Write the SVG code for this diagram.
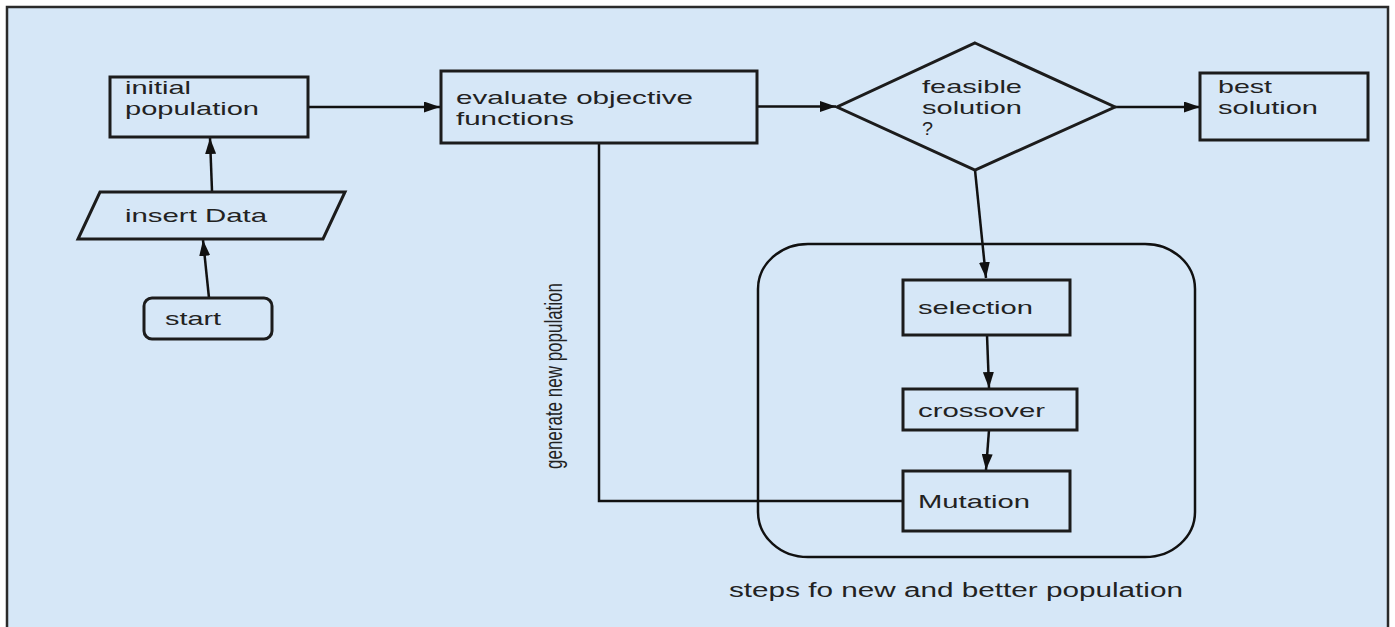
<svg xmlns="http://www.w3.org/2000/svg" width="1395" height="627" viewBox="0 0 1395 627">
<defs>
<marker id="ah" viewBox="0 0 16 11" refX="16" refY="5.5" markerWidth="16" markerHeight="11" markerUnits="userSpaceOnUse" orient="auto">
<path d="M0,0 L16,5.5 L0,11 Z" fill="#111"/>
</marker>
<style>
.bg{fill:#d6e7f7;stroke:#2a2a2a;stroke-width:2.5}
.n{fill:#d6e7f7;stroke:#1c1c1c;stroke-width:3}
.c{fill:none;stroke:#111;stroke-width:2.5}
.a{fill:none;stroke:#111;stroke-width:2.5;marker-end:url(#ah)}
.t{font-family:"Liberation Sans",Arial,sans-serif;font-size:19px;fill:#222}
</style>
</defs>
<rect x="0" y="0" width="1395" height="627" fill="#ffffff"/>
<rect class="bg" x="7" y="7" width="1381" height="640"/>

<g id="connectors">
<line class="a" x1="308" y1="107" x2="440" y2="107"/>
<line class="a" x1="757" y1="106.5" x2="836" y2="106.5"/>
<line class="a" x1="1115" y1="107" x2="1200" y2="107"/>
<line class="a" x1="209" y1="298" x2="203" y2="240"/>
<line class="a" x1="212" y1="191" x2="210" y2="138"/>
<line class="a" x1="975" y1="170" x2="986" y2="278"/>
<line class="a" x1="987" y1="335" x2="989" y2="388"/>
<line class="a" x1="989" y1="430" x2="986" y2="470"/>
<path class="c" d="M599,143 V501 H903"/>
</g>

<g id="group-steps">
<rect class="c" x="758" y="244" width="437" height="313" rx="50" ry="45"/>
<text class="t" x="729" y="597" textLength="454" lengthAdjust="spacingAndGlyphs" style="font-size:20px">steps fo new and better population</text>
</g>

<g id="label-generate">
<text class="t" transform="translate(562,469) scale(1.4,1) rotate(-90)" textLength="186" lengthAdjust="spacingAndGlyphs" style="font-size:17px">generate new population</text>
</g>

<g id="start">
<rect class="n" x="144" y="298" width="128" height="41" rx="8"/>
<text class="t" x="165" y="325" textLength="56" lengthAdjust="spacingAndGlyphs">start</text>
</g>

<g id="insert-data">
<polygon class="n" points="100,192 345,192 323,239 78,239"/>
<text class="t" x="125" y="222" textLength="142" lengthAdjust="spacingAndGlyphs">insert Data</text>
</g>

<g id="initial-population">
<rect class="n" x="110" y="77" width="198" height="60"/>
<text class="t" x="125" y="94" textLength="66" lengthAdjust="spacingAndGlyphs">initial</text>
<text class="t" x="125" y="115" textLength="134" lengthAdjust="spacingAndGlyphs">population</text>
</g>

<g id="evaluate">
<rect class="n" x="441" y="71" width="316" height="72"/>
<text class="t" x="456" y="104" textLength="237" lengthAdjust="spacingAndGlyphs">evaluate objective</text>
<text class="t" x="456" y="125" textLength="118" lengthAdjust="spacingAndGlyphs">functions</text>
</g>

<g id="feasible">
<polygon class="n" points="975,43 1115,107 975,170 837,107"/>
<text class="t" x="922" y="93" textLength="100" lengthAdjust="spacingAndGlyphs">feasible</text>
<text class="t" x="922" y="114" textLength="100" lengthAdjust="spacingAndGlyphs">solution</text>
<text class="t" x="922" y="135" textLength="11" lengthAdjust="spacingAndGlyphs">?</text>
</g>

<g id="best-solution">
<rect class="n" x="1200" y="73" width="168" height="67"/>
<text class="t" x="1218" y="93" textLength="54" lengthAdjust="spacingAndGlyphs">best</text>
<text class="t" x="1218" y="114" textLength="100" lengthAdjust="spacingAndGlyphs">solution</text>
</g>

<g id="selection">
<rect class="n" x="903" y="280" width="167" height="55"/>
<text class="t" x="918" y="314" textLength="115" lengthAdjust="spacingAndGlyphs">selection</text>
</g>

<g id="crossover">
<rect class="n" x="903" y="389" width="174" height="41"/>
<text class="t" x="918" y="417" textLength="127" lengthAdjust="spacingAndGlyphs">crossover</text>
</g>

<g id="mutation">
<rect class="n" x="903" y="471" width="167" height="60"/>
<text class="t" x="918" y="508" textLength="112" lengthAdjust="spacingAndGlyphs">Mutation</text>
</g>
</svg>
